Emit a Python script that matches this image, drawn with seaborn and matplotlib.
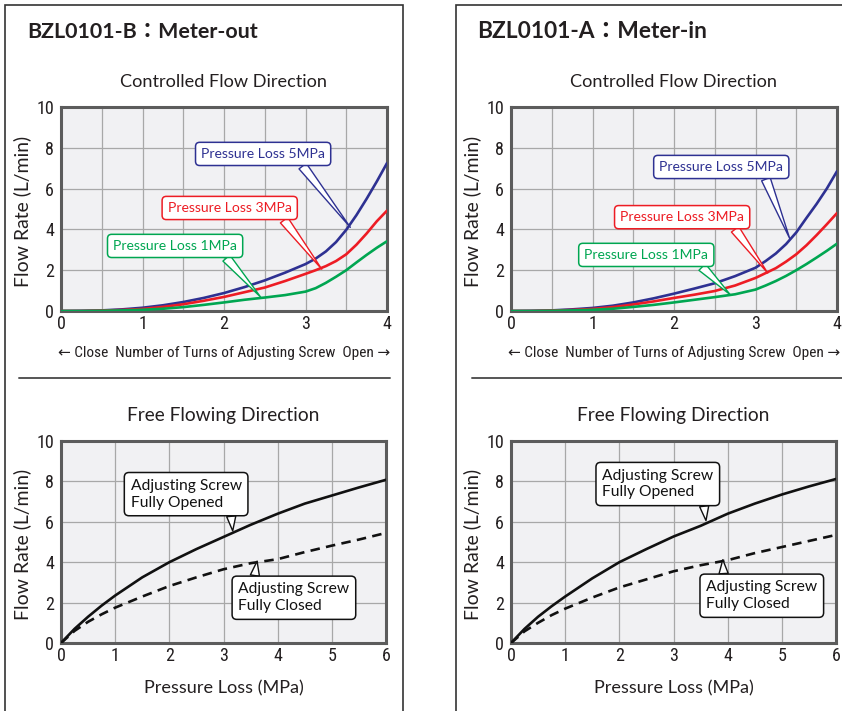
import numpy as np
import pandas as pd
import seaborn as sns
import matplotlib
matplotlib.use("Agg")
import matplotlib.pyplot as plt
from matplotlib import font_manager as fm
from matplotlib.patches import Rectangle
from matplotlib.lines import Line2D
from matplotlib.text import Text

sns.set_style("white")
plt.rcParams["font.family"] = ["Lato", "Noto Sans CJK JP", "DejaVu Sans"]

_avail = {f.name for f in fm.fontManager.ttflist}
NARROW = next((n for n in ["Liberation Sans Narrow", "DejaVu Sans Condensed",
                           "Roboto Condensed", "Open Sans Condensed"] if n in _avail), "Lato")
NARROW_FAMILY = [NARROW, "DejaVu Sans"]

# ---------------- data ----------------
turns = [0, 0.25, 0.5, 0.75, 1, 1.25, 1.5, 1.75, 2, 2.25, 2.5, 2.75,
         3, 3.125, 3.25, 3.375, 3.5, 3.625, 3.75, 3.875, 4]
pressure = [0, 0.25, 0.5, 0.75, 1, 1.5, 2, 2.5, 3, 3.5, 4, 4.5, 5, 5.5, 6]

# Meter-out, controlled flow direction (L/min)
out_5mpa = [0, 0.01, 0.03, 0.08, 0.16, 0.28, 0.44, 0.64, 0.88, 1.17, 1.5, 1.88,
            2.3, 2.57, 2.92, 3.38, 3.98, 4.7, 5.5, 6.35, 7.25]
out_3mpa = [0, 0, 0.02, 0.05, 0.1, 0.2, 0.33, 0.5, 0.69, 0.92, 1.15, 1.47,
            1.82, 2.0, 2.2, 2.45, 2.78, 3.25, 3.8, 4.4, 4.92]
out_1mpa = [0, 0, 0.01, 0.03, 0.06, 0.11, 0.19, 0.3, 0.42, 0.55, 0.66, 0.78,
            0.95, 1.12, 1.38, 1.68, 2.0, 2.38, 2.75, 3.1, 3.42]

# Meter-in, controlled flow direction (L/min)
in_5mpa = [0, 0.01, 0.03, 0.08, 0.15, 0.26, 0.42, 0.62, 0.85, 1.1, 1.36, 1.71,
           2.12, 2.45, 2.82, 3.28, 3.85, 4.56, 5.25, 6.0, 6.85]
in_3mpa = [0, 0, 0.02, 0.05, 0.1, 0.19, 0.32, 0.47, 0.64, 0.8, 0.98, 1.25,
           1.62, 1.86, 2.1, 2.42, 2.78, 3.22, 3.72, 4.25, 4.8]
in_1mpa = [0, 0, 0.01, 0.03, 0.06, 0.11, 0.2, 0.3, 0.42, 0.55, 0.68, 0.82,
           1.05, 1.25, 1.47, 1.72, 2.0, 2.3, 2.62, 2.95, 3.3]

# Free flowing direction (L/min)
out_open = [0, 0.7, 1.3, 1.85, 2.35, 3.25, 4.0, 4.65, 5.25, 5.85, 6.4, 6.9, 7.3, 7.7, 8.08]
out_closed = [0, 0.6, 1.05, 1.42, 1.75, 2.3, 2.82, 3.25, 3.65, 3.95, 4.15, 4.5, 4.82, 5.12, 5.45]
in_open = [0, 0.7, 1.3, 1.82, 2.3, 3.2, 4.0, 4.65, 5.27, 5.8, 6.4, 6.9, 7.35, 7.75, 8.12]
in_closed = [0, 0.58, 1.0, 1.38, 1.7, 2.25, 2.75, 3.15, 3.55, 3.85, 4.1, 4.45, 4.75, 5.05, 5.35]

loss_labels = ["Pressure Loss 5MPa", "Pressure Loss 3MPa", "Pressure Loss 1MPa"]
free_labels = ["Adjusting Screw\nFully Opened", "Adjusting Screw\nFully Closed"]
panel_titles = ["BZL0101-B：Meter-out", "BZL0101-A：Meter-in"]

BLUE, RED, GREEN = "#2e3192", "#ed1c24", "#00a651"
palette = {loss_labels[0]: BLUE, loss_labels[1]: RED, loss_labels[2]: GREEN}
TEXT = "#231f20"

W, H = 842, 711
fig = plt.figure(figsize=(W / 100, H / 100), dpi=100)

# texts whose size is tuned to a target pixel width
fitted = []


def fit(t, width_px):
    fitted.append((t, width_px))
    return t


def fx(px):
    return px / W


def fy(py):
    return 1 - py / H


def make_axes(left, top, right, bottom):
    return fig.add_axes([fx(left), fy(bottom), (right - left) / W, (bottom - top) / H])


def style_axes(ax, xmax, xminor):
    ax.set_facecolor("#f1f1f3")
    ax.set_xlim(0, xmax)
    ax.set_ylim(0, 10)
    ax.set_xticks(np.arange(0, xmax + 0.01, 1))
    ax.set_xticks(np.arange(0, xmax + 0.01, xminor), minor=True)
    ax.set_yticks(np.arange(0, 10.01, 2))
    ax.grid(True, which="both", color="#a8a8a8", linewidth=0.9)
    ax.set_axisbelow(True)
    ax.tick_params(which="both", length=0, labelsize=13, colors=TEXT)
    ax.tick_params(axis="y", pad=5)
    ax.tick_params(axis="x", pad=3)
    for lab in ax.get_xticklabels() + ax.get_yticklabels():
        lab.set_family(NARROW_FAMILY)
    for s in ax.spines.values():
        s.set_color("#5c5c5c")
        s.set_linewidth(2.2)
    ax.set_xlabel("")
    ax.set_ylabel("")
    t = ax.text(-0.118, 0.49, "Flow Rate (L/min)", rotation=90, transform=ax.transAxes,
                ha="center", va="center", fontsize=12, color=TEXT)
    fit(t, 150)


def callout(ax, text, center, tip, relpos, color, width_px, size=11):
    t = ax.annotate(text, xy=tip, xytext=center, color=color, fontsize=size,
                    ha="center", va="center", zorder=5, multialignment="left",
                    linespacing=1.25,
                    bbox=dict(boxstyle="round,pad=0.4,rounding_size=0.3", fc="white",
                              ec=color, lw=1.1),
                    arrowprops=dict(arrowstyle="wedge,tail_width=0.3,shrink_factor=0.5",
                                    fc="white", ec=color, lw=1.0, relpos=relpos,
                                    shrinkA=0, shrinkB=0, mutation_scale=22))
    fit(t, width_px)


controlled = [(out_5mpa, out_3mpa, out_1mpa), (in_5mpa, in_3mpa, in_1mpa)]
free = [(out_open, out_closed), (in_open, in_closed)]

# callout geometry per panel: (label centre, pointed-at location, wedge anchor on box)
ctrl_callouts = [
    [((2.48, 7.7), (3.55, 4.1), (0.78, 0)),
     ((2.07, 5.05), (3.2, 2.05), (0.9, 0)),
     ((1.40, 3.19), (2.45, 0.68), (0.87, 0))],
    [((2.58, 7.06), (3.42, 3.55), (0.84, 0)),
     ((2.10, 4.6), (3.15, 1.86), (0.89, 0)),
     ((1.66, 2.75), (2.69, 0.8), (0.9, 0))],
]
free_callouts = [
    [((2.31, 7.37), (3.17, 5.55), (0.9, 0)),
     ((4.30, 2.24), (3.62, 4.05), (0.14, 1))],
    [((2.71, 7.87), (3.60, 6.06), (0.91, 0)),
     ((4.63, 2.34), (3.91, 4.12), (0.16, 1))],
]

offsets = [0, 450]

for i, off in enumerate(offsets):
    # panel frame
    fig.add_artist(Rectangle((fx(5 + 451 * i), fy(720)), 398 / W, 715 / H,
                             transform=fig.transFigure, fill=False,
                             ec="#333333", lw=1.2))
    t = fig.text(fx(27 + off), fy(32), panel_titles[i], fontsize=15, weight="bold",
                 color=TEXT, va="center", ha="left")
    fit(t, 231)

    # controlled flow direction
    ax = make_axes(61 + off, 107, 387 + off, 311)
    s5, s3, s1 = controlled[i]
    n = len(turns)
    df = pd.DataFrame({
        "turns": turns * 3,
        "flow": s5 + s3 + s1,
        "series": [loss_labels[0]] * n + [loss_labels[1]] * n + [loss_labels[2]] * n,
    })
    sns.lineplot(data=df, x="turns", y="flow", hue="series", palette=palette,
                 linewidth=1.9, legend=False, ax=ax, sort=False, zorder=3)
    style_axes(ax, 4, 0.5)
    t = ax.text(0.5, 1.122, "Controlled Flow Direction", transform=ax.transAxes,
                ha="center", va="center", fontsize=13, color=TEXT)
    fit(t, 207)
    t = ax.text(0.5, -0.206, "← Close  Number of Turns of Adjusting Screw  Open →",
                transform=ax.transAxes, ha="center", va="center", fontsize=11,
                color=TEXT, family=NARROW_FAMILY)
    fit(t, 333)
    for lab, (c, tip, rp) in zip(loss_labels, ctrl_callouts[i]):
        callout(ax, lab, c, tip, rp, palette[lab], 124)

    # separator
    fig.add_artist(Line2D([fx(19 + 453 * i), fx(390 + 452 * i)], [fy(378), fy(378)],
                          transform=fig.transFigure, color="#555555", lw=1.4))

    # free flowing direction
    ax2 = make_axes(61 + off, 441, 386 + off, 643)
    op, cl = free[i]
    m = len(pressure)
    df2 = pd.DataFrame({
        "pressure": pressure * 2,
        "flow": op + cl,
        "state": ["open"] * m + ["closed"] * m,
    })
    sns.lineplot(data=df2, x="pressure", y="flow", style="state",
                 dashes={"open": "", "closed": (3.6, 2.4)}, color="#111111",
                 linewidth=1.9, legend=False, ax=ax2, sort=False, zorder=3)
    style_axes(ax2, 6, 1)
    t = ax2.text(0.5, 1.127, "Free Flowing Direction", transform=ax2.transAxes,
                 ha="center", va="center", fontsize=13, color=TEXT)
    fit(t, 192)
    t = ax2.text(0.5, -0.223, "Pressure Loss (MPa)", transform=ax2.transAxes,
                 ha="center", va="center", fontsize=12.5, color=TEXT)
    fit(t, 160)
    for lab, (c, tip, rp) in zip(free_labels, free_callouts[i]):
        callout(ax2, lab, c, tip, rp, "#111111", 111)

# scale fitted texts to their target widths (text extent only, without arrows)
fig.canvas.draw()
renderer = fig.canvas.get_renderer()
for t, target in fitted:
    bb = Text.get_window_extent(t, renderer)
    w = bb.height if t.get_rotation() == 90 else bb.width
    if w > 0:
        t.set_fontsize(t.get_fontsize() * target / w)

fig.savefig("out.png", dpi=100, facecolor="white")
